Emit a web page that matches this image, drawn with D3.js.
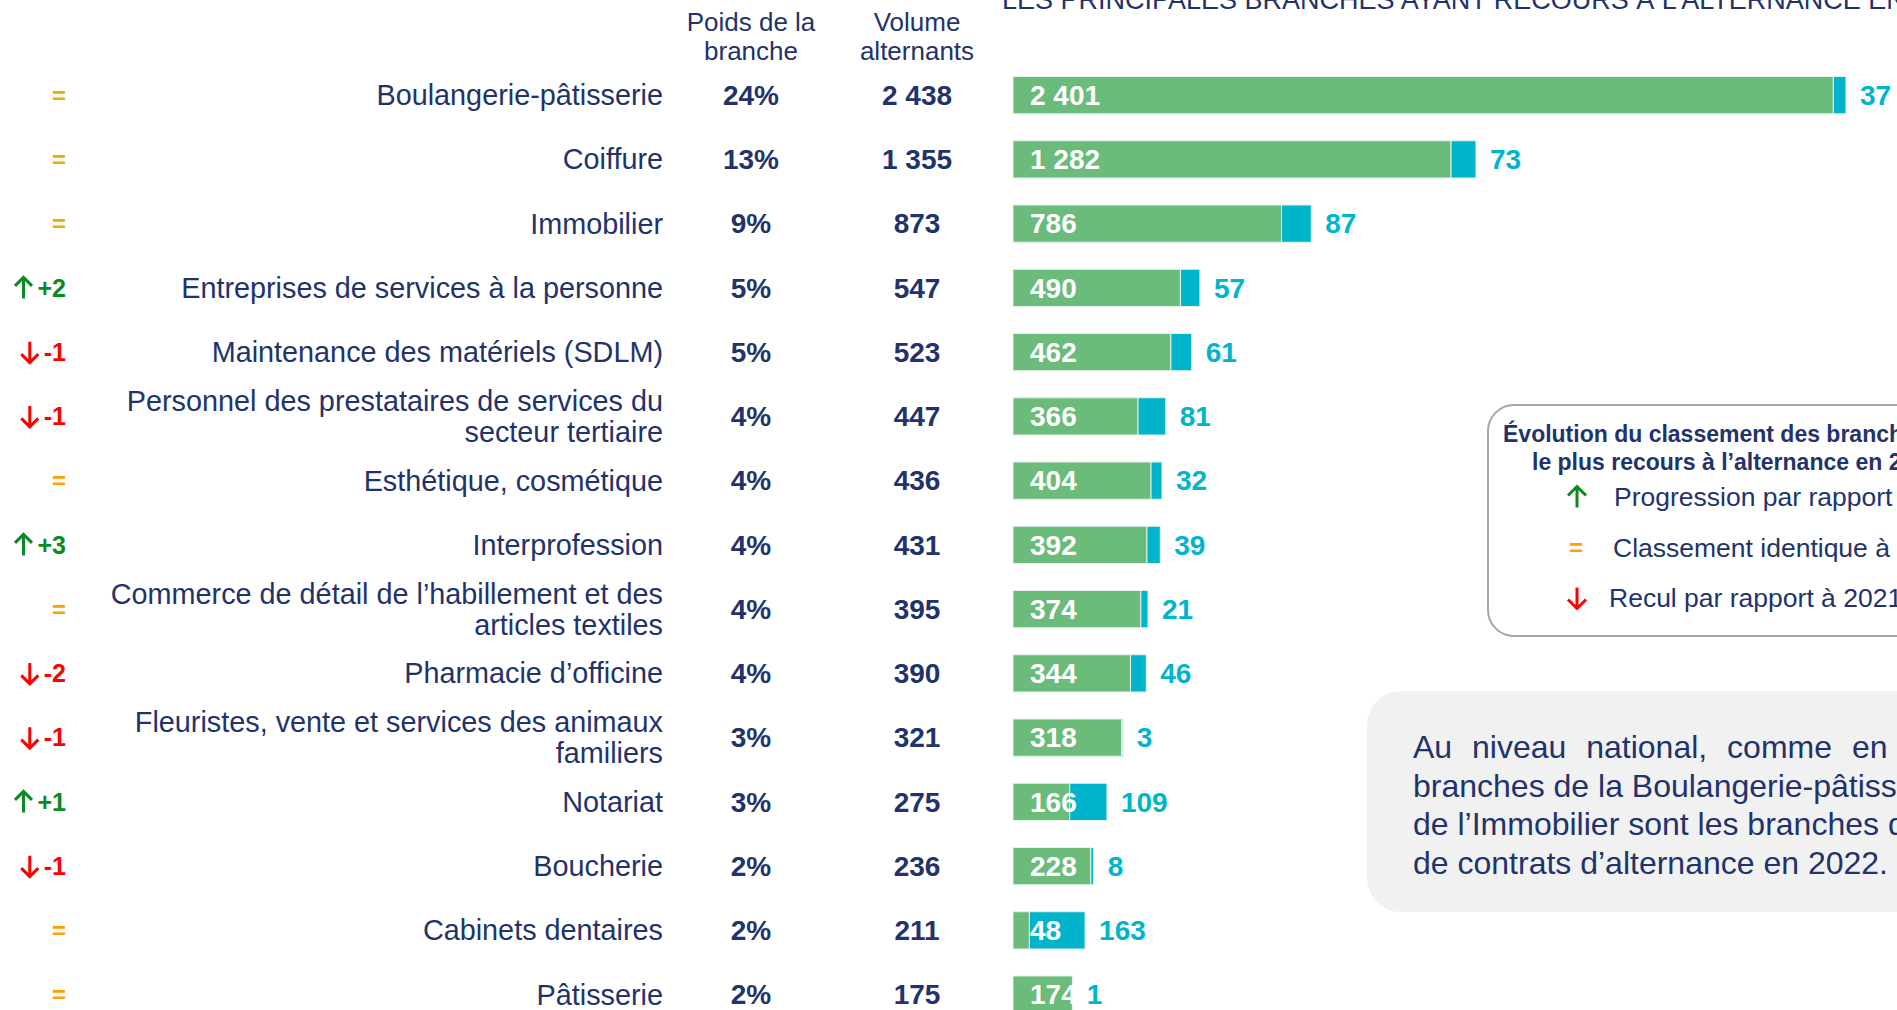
<!DOCTYPE html>
<html lang="fr">
<head>
<meta charset="utf-8">
<title>Branches et alternance 2022</title>
<script src="https://cdn.jsdelivr.net/npm/d3@7"></script>
<style>
	html, body { margin: 0; padding: 0; background: #fff; overflow: hidden; }
	svg { display: block; font-family: "Liberation Sans", Arial, sans-serif; }
</style>
</head>
<body>
<div id="chart"></div>
<script>
// données
var branches = [
	"Boulangerie-pâtisserie",
	"Coiffure",
	"Immobilier",
	"Entreprises de services à la personne",
	"Maintenance des matériels (SDLM)",
	"Personnel des prestataires de services du\nsecteur tertiaire",
	"Esthétique, cosmétique",
	"Interprofession",
	"Commerce de détail de l’habillement et des\narticles textiles",
	"Pharmacie d’officine",
	"Fleuristes, vente et services des animaux\nfamiliers",
	"Notariat",
	"Boucherie",
	"Cabinets dentaires",
	"Pâtisserie"
];
var evolution = [0, 0, 0, 2, -1, -1, 0, 3, 0, -2, -1, 1, -1, 0, 0];
var poids = [24, 13, 9, 5, 5, 4, 4, 4, 4, 4, 3, 3, 2, 2, 2];
var volume = [2438, 1355, 873, 547, 523, 447, 436, 431, 395, 390, 321, 275, 236, 211, 175];
var apprentissage = [2401, 1282, 786, 490, 462, 366, 404, 392, 374, 344, 318, 166, 228, 48, 174];
var professionnalisation = [37, 73, 87, 57, 61, 81, 32, 39, 21, 46, 3, 109, 8, 163, 1];

var entetes = [["Poids de la", "branche"], ["Volume", "alternants"]];
var titre = "LES PRINCIPALES BRANCHES AYANT RECOURS À L’ALTERNANCE EN 2022";
var legendeTitre = ["Évolution du classement des branches ayant", "le plus recours à l’alternance en 2022"];
var legendeSens = [1, 0, -1];
var legendeTextes = ["Progression par rapport à 2021", "Classement identique à 2021", "Recul par rapport à 2021"];
var commentaire = [
	"Au niveau national, comme en 2021, les",
	"branches de la Boulangerie-pâtisserie, de la Coiffure et",
	"de l’Immobilier sont les branches qui concentrent le plus",
	"de contrats d’alternance en 2022."
];

var w = 1897;
var h = 1010;
var navy = "#22336b";
var vert = "#6bbb7b";
var cyan = "#00b5cb";
var orange = "#ffa200";
var hausse = "#0a8a22";
var baisse = "#ff0000";

var fr = d3.formatLocale({ decimal: ",", thousands: "\u00a0", grouping: [3], currency: ["", " €"] });
var fmt = fr.format(",d");

var svg = d3.select("#chart")
	.append("svg")
	.attr("width", w)
	.attr("height", h);

// table pour le stack
var table = branches.map(function (b, i) {
	return { branche: i, apprentissage: apprentissage[i], professionnalisation: professionnalisation[i] };
});
var series = d3.stack().keys(["apprentissage", "professionnalisation"])(table);

var x = d3.scaleLinear()
	.domain([0, d3.max(volume)])
	.range([1013, 1846]);

var y = d3.scaleBand()
	.domain(d3.range(branches.length))
	.range([63, 63 + branches.length * 64.25])
	.paddingInner(0.42)
	.paddingOuter(0.21);

function cy(i) { return y(i) + y.bandwidth() / 2; }

// titre (coupé en haut comme sur l'original)
svg.append("text")
	.attr("x", 1002)
	.attr("y", 9)
	.attr("font-size", 27)
	.attr("fill", navy)
	.text(titre);

// entêtes de colonnes
var colX = [751, 917];
entetes.forEach(function (lignes, c) {
	svg.append("text")
		.attr("text-anchor", "middle")
		.attr("font-size", 26)
		.attr("fill", navy)
		.selectAll("tspan")
		.data(lignes)
		.enter()
		.append("tspan")
		.attr("x", colX[c])
		.attr("y", function (d, k) { return 31 + k * 29; })
		.text(function (d) { return d; });
});

// libellés des branches
var lib = svg.append("g")
	.attr("font-size", 28.8)
	.attr("fill", navy)
	.attr("text-anchor", "end");

branches.forEach(function (b, i) {
	var lignes = b.split("\n");
	var t = lib.append("text");
	lignes.forEach(function (l, k) {
		t.append("tspan")
			.attr("x", 663)
			.attr("y", cy(i) + (k - (lignes.length - 1) / 2) * 31)
			.attr("dy", "0.35em")
			.text(l);
	});
});

// poids et volume
svg.append("g")
	.selectAll("text")
	.data(poids)
	.enter()
	.append("text")
	.attr("x", colX[0])
	.attr("y", function (d, i) { return cy(i); })
	.attr("dy", "0.35em")
	.attr("text-anchor", "middle")
	.attr("font-size", 28)
	.attr("font-weight", "bold")
	.attr("fill", navy)
	.text(function (d) { return d + "%"; });

svg.append("g")
	.selectAll("text")
	.data(volume)
	.enter()
	.append("text")
	.attr("x", colX[1])
	.attr("y", function (d, i) { return cy(i); })
	.attr("dy", "0.35em")
	.attr("text-anchor", "middle")
	.attr("font-size", 28)
	.attr("font-weight", "bold")
	.attr("fill", navy)
	.text(function (d) { return fmt(d); });

// flèches
function fleche(g, cx, cyy, sens, larg, haut, couleur) {
	var pointe = sens > 0 ? cyy - haut / 2 : cyy + haut / 2;
	var queue = sens > 0 ? cyy + haut / 2 : cyy - haut / 2;
	var dos = pointe + sens * larg / 2;
	var path = d3.path();
	path.moveTo(cx, queue);
	path.lineTo(cx, pointe);
	path.moveTo(cx - larg / 2, dos);
	path.lineTo(cx, pointe);
	path.lineTo(cx + larg / 2, dos);
	g.append("path")
		.attr("d", path.toString())
		.attr("fill", "none")
		.attr("stroke", couleur)
		.attr("stroke-width", 3);
}

// évolution du classement
var evo = svg.append("g");
evolution.forEach(function (e, i) {
	if (e == 0) {
		evo.append("text")
			.attr("x", 59)
			.attr("y", cy(i))
			.attr("dy", "0.35em")
			.attr("text-anchor", "middle")
			.attr("font-size", 24)
			.attr("font-weight", "bold")
			.attr("fill", orange)
			.text("=");
		return;
	}
	var couleur = e > 0 ? hausse : baisse;
	var t = evo.append("text")
		.attr("x", 66)
		.attr("y", cy(i))
		.attr("dy", "0.35em")
		.attr("text-anchor", "end")
		.attr("font-size", 25)
		.attr("font-weight", "bold")
		.attr("fill", couleur)
		.text((e > 0 ? "+" : "-") + Math.abs(e));
	var debut = 66 - t.node().getComputedTextLength();
	fleche(evo, debut - 14, cy(i), e > 0 ? 1 : -1, 17, 21, couleur);
});

// barres empilées
var couleurs = [vert, cyan];
svg.append("g")
	.selectAll("g")
	.data(series)
	.enter()
	.append("g")
	.attr("fill", function (d, k) { return couleurs[k]; })
	.selectAll("rect")
	.data(function (d) { return d; })
	.enter()
	.append("rect")
	.attr("x", function (d) { return x(d[0]); })
	.attr("y", function (d) { return y(d.data.branche); })
	.attr("width", function (d) { return x(d[1]) - x(d[0]); })
	.attr("height", y.bandwidth())
	.attr("stroke", "#e4f3ea")
	.attr("stroke-width", 1);

// étiquettes des barres
svg.append("g")
	.selectAll("text")
	.data(apprentissage)
	.enter()
	.append("text")
	.attr("x", x(0) + 17)
	.attr("y", function (d, i) { return cy(i); })
	.attr("dy", "0.35em")
	.attr("font-size", 28)
	.attr("font-weight", "bold")
	.attr("fill", "#fff")
	.text(function (d) { return fmt(d); });

svg.append("g")
	.selectAll("text")
	.data(professionnalisation)
	.enter()
	.append("text")
	.attr("x", function (d, i) { return x(volume[i]) + 14; })
	.attr("y", function (d, i) { return cy(i); })
	.attr("dy", "0.35em")
	.attr("font-size", 28)
	.attr("font-weight", "bold")
	.attr("fill", cyan)
	.text(function (d) { return fmt(d); });

// encadré légende
var leg = svg.append("g");
leg.append("rect")
	.attr("x", 1488)
	.attr("y", 405)
	.attr("width", 520)
	.attr("height", 231)
	.attr("rx", 26)
	.attr("fill", "#fff")
	.attr("stroke", "#a6a6a6")
	.attr("stroke-width", 2);

leg.selectAll(".lt")
	.data(legendeTitre)
	.enter()
	.append("text")
	.attr("class", "lt")
	.attr("x", function (d, k) { return k == 0 ? 1503 : 1532; })
	.attr("y", function (d, k) { return 442 + k * 28; })
	.attr("font-size", 23)
	.attr("font-weight", "bold")
	.attr("fill", navy)
	.text(function (d) { return d; });

var legY = [497, 548, 598];
var legX = [1614, 1613, 1609];
legendeSens.forEach(function (s, k) {
	if (s == 0) {
		leg.append("text")
			.attr("x", 1576)
			.attr("y", legY[k])
			.attr("dy", "0.35em")
			.attr("text-anchor", "middle")
			.attr("font-size", 24)
			.attr("font-weight", "bold")
			.attr("fill", orange)
			.text("=");
	} else {
		fleche(leg, 1577, legY[k], s, 18, 21, s > 0 ? hausse : baisse);
	}
	leg.append("text")
		.attr("x", legX[k])
		.attr("y", legY[k])
		.attr("dy", "0.35em")
		.attr("font-size", 26.5)
		.attr("fill", navy)
		.text(legendeTextes[k]);
});

// encadré commentaire
var com = svg.append("g");
com.append("rect")
	.attr("x", 1367)
	.attr("y", 691)
	.attr("width", 620)
	.attr("height", 221)
	.attr("rx", 34)
	.attr("fill", "#f1f1f1");

com.selectAll("text")
	.data(commentaire)
	.enter()
	.append("text")
	.attr("x", 1413)
	.attr("y", function (d, k) { return 758 + k * 38.7; })
	.attr("font-size", 32)
	.attr("word-spacing", function (d, k) { return k == 0 ? 11 : 0; })
	.attr("fill", navy)
	.text(function (d) { return d; });
</script>
</body>
</html>
